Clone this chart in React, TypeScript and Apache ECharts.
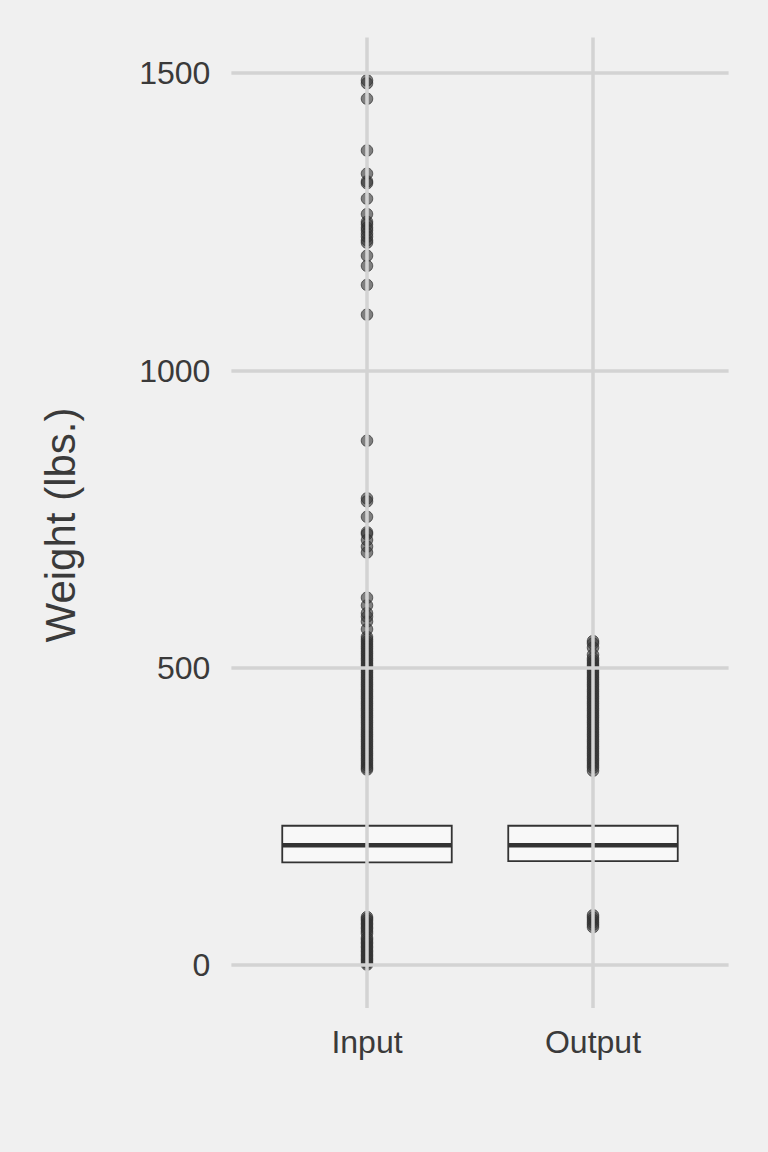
import React, { useEffect, useRef } from "react";
import * as echarts from "echarts";

const categories = ["Input", "Output"];
const categoryPositions = [1, 2];
// [whisker low, Q1, median, Q3, whisker high]
const inputBox = [84, 173, 201.5, 234.5, 326];
const outputBox = [87, 175, 201.5, 234.5, 324];
const yTicks = [0, 500, 1000, 1500];

const inputOutliers = [
  1488, 1483, 1457, 1370, 1331, 1318, 1315, 1289, 1263, 1250, 1246, 1240, 1236, 1230, 1225, 1219, 1215,
  1193, 1176, 1144, 1094, 882, 785, 780, 754, 728, 725, 715, 704, 694, 618, 605, 592, 586, 578, 565, 552,
  548, 544, 540, 536, 532, 528, 524, 520, 516, 512, 508, 504, 500, 496, 492, 488, 484, 480, 476, 472,
  468, 464, 460, 456, 452, 448, 444, 440, 436, 432, 428, 424, 420, 416, 412, 408, 404, 400, 396, 392,
  388, 384, 380, 376, 372, 368, 364, 360, 356, 352, 348, 344, 340, 336, 332, 329,
  81, 78, 75, 71, 68, 64, 61, 57, 53, 46, 43, 39, 36, 32, 29, 25, 22, 18, 15, 11, 8, 4, 1,
];

const outputOutliers = [
  545, 541, 534, 522, 516, 512, 508, 504, 500, 496, 492, 488, 484, 480, 476, 472, 468, 464, 460, 456,
  452, 448, 444, 440, 436, 432, 428, 424, 420, 416, 412, 408, 404, 400, 396, 392, 388, 384, 380, 376,
  372, 368, 364, 360, 356, 352, 348, 344, 340, 336, 332, 327,
  84, 80, 76, 72, 68, 64,
];

const FONT = "'Liberation Sans', Arial, sans-serif";
const TEXT = "#3a3a3a";

export default function App() {
  const ref = useRef<HTMLDivElement>(null);

  useEffect(() => {
    document.body.style.margin = "0";
    document.body.style.background = "#f0f0f0";
    if (!ref.current) return;
    const chart = echarts.init(ref.current, undefined, { renderer: "svg" });

    const boxData = [inputBox, outputBox].map((s, i) => [categoryPositions[i], ...s]);
    const scatterData = [
      ...inputOutliers.map((v) => [categoryPositions[0], v]),
      ...outputOutliers.map((v) => [categoryPositions[1], v]),
    ];

    const option: any = {
      animation: false,
      backgroundColor: "#f0f0f0",
      grid: { left: 231.4, right: 39.4, top: 37.5, bottom: 144, containLabel: false },
      xAxis: {
        type: "value",
        min: 0.4,
        max: 2.6,
        axisLine: { show: false },
        axisTick: { show: false },
        splitLine: { show: false },
        axisLabel: {
          customValues: categoryPositions,
          color: TEXT,
          fontSize: 32,
          fontFamily: FONT,
          margin: 18,
          formatter: (v: number) => {
            const i = categoryPositions.indexOf(v);
            return i >= 0 ? categories[i] : "";
          },
        },
      },
      yAxis: {
        type: "value",
        min: -72,
        max: 1560,
        splitNumber: 3,
        axisLine: { show: false },
        axisTick: { show: false },
        splitLine: { show: false },
        axisLabel: {
          customValues: yTicks,
          color: TEXT,
          fontSize: 32,
          fontFamily: FONT,
          margin: 21,
          formatter: (v: number) => (yTicks.includes(v) ? String(v) : ""),
        },
      },
      graphic: [
        {
          type: "text",
          x: 60.5,
          y: 525,
          rotation: Math.PI / 2,
          style: {
            text: "Weight (lbs.)",
            fontSize: 42,
            fontFamily: FONT,
            fill: TEXT,
            align: "center",
            verticalAlign: "middle",
          },
        },
      ],
      series: [
        {
          type: "scatter",
          data: [],
          z: 1,
          silent: true,
          markLine: {
            silent: true,
            symbol: "none",
            label: { show: false },
            lineStyle: { color: "#d3d3d3", width: 3.5, type: "solid" },
            data: [
              ...yTicks.map((v) => ({ yAxis: v })),
              ...categoryPositions.map((c) => ({ xAxis: c })),
            ],
          },
        },
        {
          type: "scatter",
          data: scatterData,
          z: 3,
          symbol: "circle",
          symbolSize: 11.5,
          itemStyle: {
            color: "rgba(51,51,51,0.6)",
            borderColor: "rgba(51,51,51,0.75)",
            borderWidth: 1,
            opacity: 1,
          },
        },
        {
          type: "custom",
          z: 4,
          data: boxData,
          encode: { x: 0, y: [1, 2, 3, 4, 5] },
          renderItem: (params: any, api: any) => {
            const pos = api.value(0);
            const lo = api.coord([pos, api.value(1)]);
            const q1 = api.coord([pos, api.value(2)]);
            const md = api.coord([pos, api.value(3)]);
            const q3 = api.coord([pos, api.value(4)]);
            const hi = api.coord([pos, api.value(5)]);
            const half = api.size([1, 0])[0] * 0.375;
            const cx = md[0];
            const lineStyle = { stroke: "#333333", lineWidth: 2 };
            return {
              type: "group",
              children: [
                { type: "line", shape: { x1: cx, y1: hi[1], x2: cx, y2: q3[1] }, style: lineStyle },
                { type: "line", shape: { x1: cx, y1: q1[1], x2: cx, y2: lo[1] }, style: lineStyle },
                {
                  type: "rect",
                  shape: { x: cx - half, y: q3[1], width: half * 2, height: q1[1] - q3[1] },
                  style: { fill: "rgba(255,255,255,0.5)", stroke: "#333333", lineWidth: 1.8 },
                },
                {
                  type: "line",
                  shape: { x1: cx - half, y1: md[1], x2: cx + half, y2: md[1] },
                  style: { stroke: "#333333", lineWidth: 4.5 },
                },
              ],
            };
          },
        },
      ],
    };

    chart.setOption(option);
    return () => chart.dispose();
  }, []);

  return <div ref={ref} style={{ width: 768, height: 1152 }} />;
}
